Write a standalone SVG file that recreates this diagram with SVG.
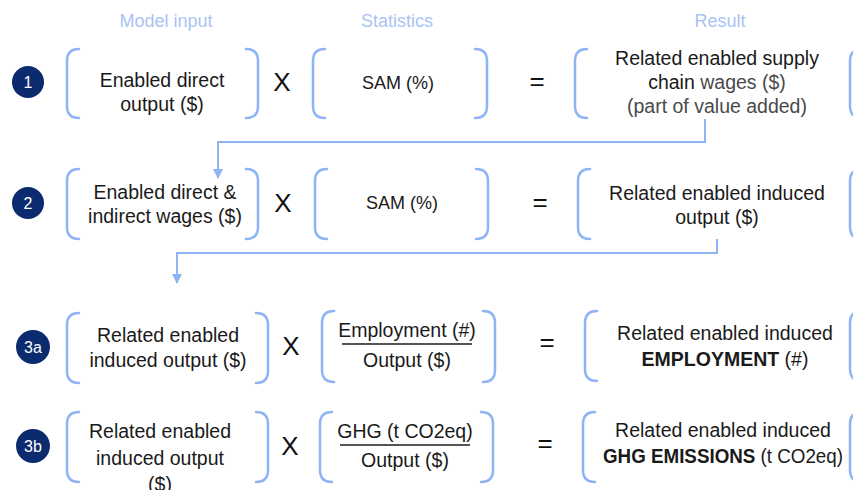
<svg xmlns="http://www.w3.org/2000/svg" width="853" height="490" viewBox="0 0 853 490">
<defs>
<style>
.br{fill:none;stroke:#8fb4f5;stroke-width:2.5;stroke-linecap:round}
.t{font-family:"Liberation Sans",Arial,sans-serif;font-size:19.5px;fill:#1a1a1a;text-anchor:middle}
.g{fill:#4a4a4a}
.s{font-size:18px}
.h{font-family:"Liberation Sans",Arial,sans-serif;font-size:18px;fill:#a8c4f5;text-anchor:middle}
.op{font-family:"Liberation Sans",Arial,sans-serif;font-size:26px;fill:#111;text-anchor:middle}
.c{fill:#0c2a6e}
.ct{font-family:"Liberation Sans",Arial,sans-serif;font-size:16px;fill:#fff;text-anchor:middle}
.con{fill:none;stroke:#8fb4f5;stroke-width:2}
.fr{stroke:#555;stroke-width:2}
</style>
<marker id="ah" viewBox="0 0 10 10" refX="9" refY="5" markerWidth="10" markerHeight="10" markerUnits="userSpaceOnUse" orient="auto"><path d="M0,0 L10,5 L0,10 z" fill="#8fb4f5"/></marker>
</defs>
<g id="headers">
<text class="h" x="166" y="27">Model input</text>
<text class="h" x="397" y="27">Statistics</text>
<text class="h" x="720" y="27">Result</text>
</g>
<g id="connectors">
<path class="con" d="M705,119 V142 H218 V178" marker-end="url(#ah)"/>
<path class="con" d="M717,239 V253 H177 V283" marker-end="url(#ah)"/>
</g>
<g id="step1">
<circle class="c" cx="28" cy="82" r="16"/><text class="ct" x="28" y="88">1</text>
</g>
<g id="r1-input">
<path class="br" d="M79,49 Q67,49 67,61 V106 Q67,118 79,118 M246,49 Q258,49 258,61 V106 Q258,118 246,118"/>
<text class="t" x="162" y="87">Enabled direct</text>
<text class="t" x="162" y="111">output ($)</text>
</g>
<text class="op" x="282" y="91">X</text>
<g id="r1-stat">
<path class="br" d="M325,49 Q313,49 313,61 V106 Q313,118 325,118 M475,49 Q487,49 487,61 V106 Q487,118 475,118"/>
<text class="t s" x="398" y="89">SAM (%)</text>
</g>
<text class="op" x="537" y="90">=</text>
<g id="r1-result">
<path class="br" d="M587,49 Q575,49 575,61 V106 Q575,118 587,118 M862,49 Q850,49 850,61 V106 Q850,118 862,118"/>
<text class="t" x="717" y="65">Related enabled supply</text>
<text class="t" x="717" y="89">chain <tspan class="g">wages ($)</tspan></text>
<text class="t g" x="717" y="113">(part of value added)</text>
</g>
<g id="step2">
<circle class="c" cx="28" cy="203" r="16"/><text class="ct" x="28" y="209">2</text>
</g>
<g id="r2-input">
<path class="br" d="M79,169 Q67,169 67,181 V227 Q67,239 79,239 M246,169 Q258,169 258,181 V227 Q258,239 246,239"/>
<text class="t" x="165" y="199">Enabled direct &amp;</text>
<text class="t" x="165" y="223">indirect wages ($)</text>
</g>
<text class="op" x="283" y="212">X</text>
<g id="r2-stat">
<path class="br" d="M327,169 Q315,169 315,181 V227 Q315,239 327,239 M476,169 Q488,169 488,181 V227 Q488,239 476,239"/>
<text class="t s" x="402" y="209">SAM (%)</text>
</g>
<text class="op" x="540" y="211">=</text>
<g id="r2-result">
<path class="br" d="M590,169 Q578,169 578,181 V227 Q578,239 590,239 M862,169 Q850,169 850,181 V227 Q850,239 862,239"/>
<text class="t" x="717" y="200">Related enabled induced</text>
<text class="t" x="717" y="224">output ($)</text>
</g>
<g id="step3a">
<circle class="c" cx="33" cy="347" r="17"/><text class="ct" x="33" y="353">3a</text>
</g>
<g id="r3a-input">
<path class="br" d="M79,313 Q67,313 67,325 V371 Q67,383 79,383 M256,313 Q268,313 268,325 V371 Q268,383 256,383"/>
<text class="t" x="168" y="342">Related enabled</text>
<text class="t" x="168" y="367">induced output ($)</text>
</g>
<text class="op" x="291" y="355">X</text>
<g id="r3a-stat">
<path class="br" d="M334,311 Q322,311 322,323 V370 Q322,382 334,382 M483,311 Q495,311 495,323 V370 Q495,382 483,382"/>
<text class="t" x="407" y="337">Employment (#)</text>
<line class="fr" x1="342" y1="344" x2="472" y2="344"/>
<text class="t" x="407" y="367">Output ($)</text>
</g>
<text class="op" x="547" y="351">=</text>
<g id="r3a-result">
<path class="br" d="M597,311 Q585,311 585,323 V369 Q585,381 597,381 M862,311 Q850,311 850,323 V369 Q850,381 862,381"/>
<text class="t" x="725" y="340">Related enabled induced</text>
<text class="t" x="725" y="366"><tspan font-weight="bold">EMPLOYMENT</tspan> (#)</text>
</g>
<g id="step3b">
<circle class="c" cx="33" cy="446" r="17"/><text class="ct" x="33" y="452">3b</text>
</g>
<g id="r3b-input">
<path class="br" d="M79,412 Q67,412 67,424 V470 Q67,482 79,482 M256,412 Q268,412 268,424 V470 Q268,482 256,482"/>
<text class="t" x="160" y="438">Related enabled</text>
<text class="t" x="160" y="465">induced output</text>
<text class="t" x="160" y="491">($)</text>
</g>
<text class="op" x="290" y="455">X</text>
<g id="r3b-stat">
<path class="br" d="M332,412 Q320,412 320,424 V470 Q320,482 332,482 M481,412 Q493,412 493,424 V470 Q493,482 481,482"/>
<text class="t" x="405" y="438">GHG (t CO2eq)</text>
<line class="fr" x1="340" y1="445" x2="470" y2="445"/>
<text class="t" x="405" y="467">Output ($)</text>
</g>
<text class="op" x="545" y="452">=</text>
<g id="r3b-result">
<path class="br" d="M595,412 Q583,412 583,424 V470 Q583,482 595,482 M862,412 Q850,412 850,424 V470 Q850,482 862,482"/>
<text class="t" x="723" y="437">Related enabled induced</text>
<text class="t" x="723" y="463" textLength="240" lengthAdjust="spacingAndGlyphs"><tspan font-weight="bold">GHG EMISSIONS</tspan> (t CO2eq)</text>
</g>
</svg>
